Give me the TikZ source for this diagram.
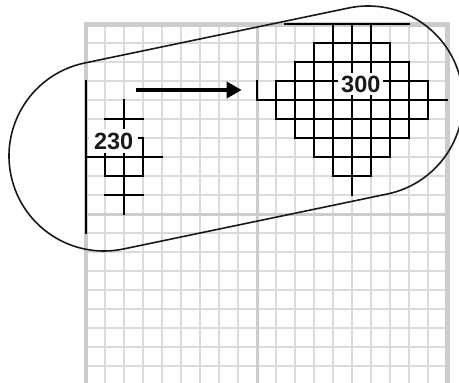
\documentclass[tikz,border=0pt]{standalone}
\usepackage{fontspec}
\setmainfont{Liberation Sans}
\usetikzlibrary{arrows.meta}
\tikzset{
  gridcoords/.style={shift={(86,24.3)}, x=19.02pt, y=-18.97pt},
  thinline/.style={draw=black!14, line width=1.8pt},
  majorline/.style={draw=black!20, line width=3pt},
  borderline/.style={draw=black!20, line width=4.5pt},
  pat/.style={draw=black, line width=1.9pt, line cap=rect},
  numlabel/.style={fill=white, font=\bfseries\fontsize{23.5}{26}\selectfont, text=black!90},
  outline/.style={draw=black!90, line width=1.6pt},
  movearrow/.style={draw=black, line width=3.5pt, -{Triangle[length=15pt,width=16pt]}}
}
\begin{document}
\begin{tikzpicture}[x=1pt,y=-1pt]
\useasboundingbox (0,0) rectangle (459,383);
\clip (0,0) rectangle (459,383);
\fill[white] (0,0) rectangle (459,383);
% grid
\begin{scope}[gridcoords]
  \foreach \i in {1,...,8,10,11,...,18} \draw[thinline] (\i,0) -- (\i,20);
  \foreach \j in {1,...,9,11,12,...,19} \draw[thinline] (0,\j) -- (19,\j);
  \draw[majorline] (9,0) -- (9,20);
  \draw[majorline] (0,10) -- (19,10);
  \draw[borderline] (0,20) -- (0,0) -- (19,0) -- (19,20);
  % left pattern
  \draw[pat] (0,3) -- (0,11);
  \draw[pat] (0,7) -- (4,7);
  \draw[pat] (2,4) -- (2,10);
  \draw[pat] (1,5) -- (3,5);
  \draw[pat] (1,9) -- (3,9);
  \draw[pat] (1,6) rectangle (3,8);
  % right pattern
  \draw[pat] (10.46,0) -- (17,0);
  \draw[pat] (13,0) -- (13,8);
  \draw[pat] (14,0) -- (14,9);
  \draw[pat] (15,0) -- (15,8);
  \draw[pat] (12,1) -- (12,7);
  \draw[pat] (16,1) -- (16,7);
  \draw[pat] (11,2) -- (11,6);
  \draw[pat] (17,2) -- (17,6);
  \draw[pat] (10,3) -- (10,5);
  \draw[pat] (18,3) -- (18,5);
  \draw[pat] (9,3) -- (9,4);
  \draw[pat] (12,1) -- (16,1);
  \draw[pat] (11,2) -- (17,2);
  \draw[pat] (10,3) -- (18,3);
  \draw[pat] (9,4) -- (19,4);
  \draw[pat] (10,5) -- (18,5);
  \draw[pat] (11,6) -- (17,6);
  \draw[pat] (12,7) -- (16,7);
  \draw[pat] (13,8) -- (15,8);
\end{scope}
% labels
\node[numlabel, inner xsep=5pt, inner ysep=3.2pt] (l230) at (113.7,141) {230};
\node[numlabel, inner xsep=3pt, inner ysep=2.5pt] (l300) at (360.8,84) {300};
% arrow
\coordinate (arrowstart) at (136,90);
\coordinate (arrowend) at (241.7,90);
\draw[movearrow] (arrowstart) -- (arrowend);
% outline
\begin{scope}[x=1pt, y=1pt, shift={(104,-156)}, rotate=11.77]
  \draw[outline] (0,95) -- (269.67,95) arc[start angle=90, end angle=-90, radius=95pt]
    -- (0,-95) arc[start angle=270, end angle=90, radius=95pt] -- cycle;
\end{scope}
\end{tikzpicture}
\end{document}
